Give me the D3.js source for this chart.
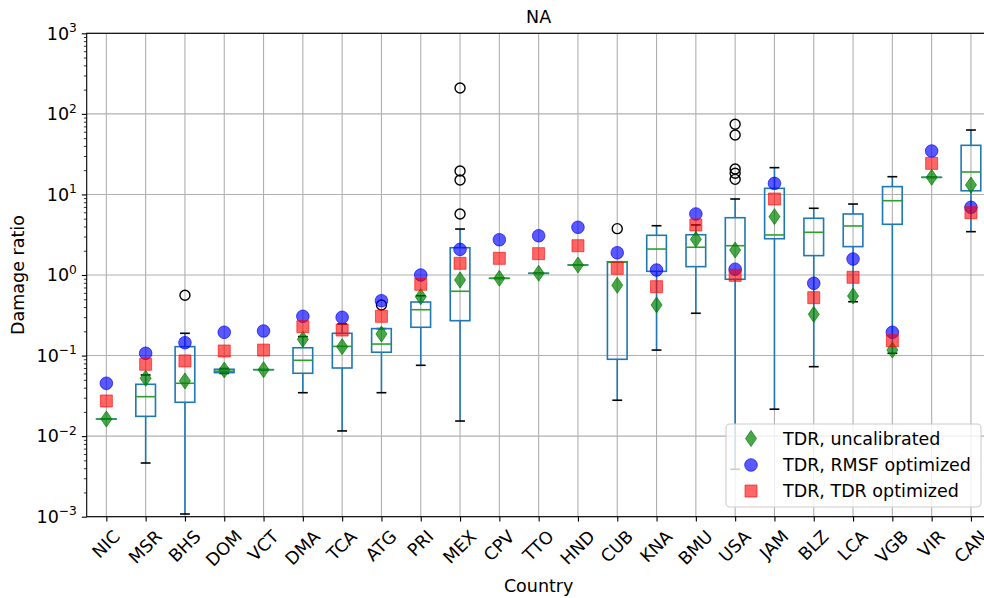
<!DOCTYPE html>
<html>
<head>
<meta charset="utf-8">
<script src="https://cdn.jsdelivr.net/npm/d3@7"></script>
<style>
  html, body { margin: 0; padding: 0; background: #fff; }
  svg { display: block; font-family: "DejaVu Sans", sans-serif; }
</style>
</head>
<body>
<svg id="chart" width="984" height="598"></svg>
<script>
// Countries along the x axis
const countries = ["NIC","MSR","BHS","DOM","VCT","DMA","TCA","ATG","PRI","MEX","CPV","TTO",
  "HND","CUB","KNA","BMU","USA","JAM","BLZ","LCA","VGB","VIR","CAN"];

// Box statistics of the damage ratio per country
const whiskerLow = [0.0163,0.00464,0.00108,0.060,0.0668,0.0346,0.0116,0.0346,0.0757,0.0154,0.91,1.05,
  1.33,0.0279,0.117,0.335,0.00388,0.0216,0.0728,0.466,0.1067,16.3,3.45];
const quartile1 = [0.0163,0.0176,0.0263,0.0614,0.0668,0.0603,0.0701,0.110,0.2245,0.271,0.91,1.05,
  1.33,0.0899,1.11,1.27,0.885,2.82,1.74,2.25,4.26,16.3,11.1];
const medians = [0.0163,0.0309,0.0453,0.064,0.0668,0.0874,0.130,0.139,0.371,0.628,0.91,1.05,
  1.33,1.44,2.10,2.21,2.31,3.14,3.39,4.06,8.36,16.3,19.0];
const quartile3 = [0.0163,0.044,0.129,0.0676,0.0668,0.125,0.189,0.216,0.462,2.18,0.91,1.05,
  1.33,1.46,3.11,3.16,5.14,11.9,5.06,5.72,12.5,16.3,40.7];
const whiskerHigh = [0.0163,0.0574,0.189,0.069,0.0668,0.172,0.2466,0.216,0.553,3.72,0.91,1.05,
  1.33,1.46,4.09,4.18,8.78,21.5,6.73,7.6,16.6,16.3,63];
const outliers = [[],[],[0.56],[],[],[],[],[0.4246],[],[5.72,15.1,19.5,209],[],[],
  [],[3.76],[],[],[15.4,18.3,20.7,54.7,74.2],[],[],[],[],[],[]];

// Modelled damage ratios
const tdrUncalibrated = [0.0163,0.0522,0.0484,0.0662,0.0668,0.159,0.129,0.185,0.538,0.867,0.91,1.05,
  1.33,0.745,0.425,2.77,2.04,5.3,0.325,0.549,0.117,16.3,13.1];
const tdrRmsfOptimized = [0.0453,0.1067,0.1445,0.1945,0.2018,0.307,0.2985,0.48,1.0,2.08,2.74,3.07,
  3.91,1.89,1.153,5.72,1.18,13.7,0.789,1.58,0.1945,34.6,6.92];
const tdrTdrOptimized = [0.0273,0.078,0.0857,0.114,0.117,0.2285,0.2076,0.307,0.767,1.397,1.61,1.84,
  2.31,1.21,0.716,4.18,0.99,8.78,0.523,0.937,0.153,24.3,5.93];

const decadeExponents = [-3,-2,-1,0,1,2,3];
const legendLabels = ["TDR, uncalibrated","TDR, RMSF optimized","TDR, TDR optimized"];

const svg = d3.select("#chart");
const fs = 17.5;
const plotLeft = 86.7, plotRight = 990.6, plotTop = 33.3, plotBottom = 516.7;

const x = d3.scalePoint().domain(countries).range([plotLeft, plotRight]).padding(0.5);
const step = x.step();
const y = d3.scaleLog().domain([1e-3, 1e3]).range([plotBottom, plotTop]);

const boxes = countries.map((c, i) => ({
  c, lo: whiskerLow[i], q1: quartile1[i], med: medians[i], q3: quartile3[i], hi: whiskerHigh[i],
  fl: outliers[i]
}));

// grid
const grid = svg.append("g").attr("stroke", "#b0b0b0").attr("stroke-width", 1.1);
grid.selectAll("line.gx").data(countries).join("line")
  .attr("x1", d => x(d)).attr("x2", d => x(d)).attr("y1", plotTop).attr("y2", plotBottom);
grid.selectAll("line.gy").data(decadeExponents).join("line")
  .attr("x1", plotLeft).attr("x2", plotRight)
  .attr("y1", d => y(Math.pow(10, d))).attr("y2", d => y(Math.pow(10, d)));

// boxplots
const bw = step * 0.5, cw = step * 0.25;
const bx = svg.append("g");
const g = bx.selectAll("g").data(boxes).join("g");
g.append("line").attr("stroke", "#1f77b4").attr("stroke-width", 1.6)
  .attr("x1", d => x(d.c)).attr("x2", d => x(d.c)).attr("y1", d => y(d.q1)).attr("y2", d => y(d.lo));
g.append("line").attr("stroke", "#1f77b4").attr("stroke-width", 1.6)
  .attr("x1", d => x(d.c)).attr("x2", d => x(d.c)).attr("y1", d => y(d.q3)).attr("y2", d => y(d.hi));
g.append("line").attr("stroke", "#000").attr("stroke-width", 1.6)
  .attr("x1", d => x(d.c) - cw / 2).attr("x2", d => x(d.c) + cw / 2).attr("y1", d => y(d.lo)).attr("y2", d => y(d.lo));
g.append("line").attr("stroke", "#000").attr("stroke-width", 1.6)
  .attr("x1", d => x(d.c) - cw / 2).attr("x2", d => x(d.c) + cw / 2).attr("y1", d => y(d.hi)).attr("y2", d => y(d.hi));
g.append("rect").attr("fill", "none").attr("stroke", "#1f77b4").attr("stroke-width", 1.6)
  .attr("x", d => x(d.c) - bw / 2).attr("width", bw)
  .attr("y", d => y(d.q3)).attr("height", d => Math.max(0.01, y(d.q1) - y(d.q3)));
g.append("line").attr("stroke", "#2ca02c").attr("stroke-width", 1.6)
  .attr("x1", d => x(d.c) - bw / 2).attr("x2", d => x(d.c) + bw / 2).attr("y1", d => y(d.med)).attr("y2", d => y(d.med));
g.selectAll("circle").data(d => d.fl.map(v => ({ c: d.c, v }))).join("circle")
  .attr("cx", d => x(d.c)).attr("cy", d => y(d.v)).attr("r", 5)
  .attr("fill", "none").attr("stroke", "#000").attr("stroke-width", 1.4);

// marker shapes
const diamondPath = "M0,-8L5.5,0L0,8L-5.5,0Z";
const squarePath = "M-6,-6H6V6H-6Z";
function drawMarker(sel, kind) {
  if (kind === 0) {
    sel.append("path").attr("d", diamondPath)
      .attr("fill", "green").attr("fill-opacity", 0.7).attr("stroke", "green").attr("stroke-opacity", 0.7);
  } else if (kind === 1) {
    sel.append("circle").attr("r", 6.3)
      .attr("fill", "blue").attr("fill-opacity", 0.65).attr("stroke", "blue").attr("stroke-opacity", 0.65);
  } else {
    sel.append("path").attr("d", squarePath)
      .attr("fill", "red").attr("fill-opacity", 0.6).attr("stroke", "red").attr("stroke-opacity", 0.6);
  }
}
[tdrUncalibrated, tdrRmsfOptimized, tdrTdrOptimized].forEach((series, k) => {
  const mg = svg.append("g");
  mg.selectAll("g").data(series).join("g")
    .attr("transform", (v, i) => `translate(${x(countries[i])},${y(v)})`)
    .each(function () { drawMarker(d3.select(this), k); });
});

// spines
svg.append("rect").attr("x", plotLeft).attr("y", plotTop)
  .attr("width", plotRight - plotLeft).attr("height", plotBottom - plotTop)
  .attr("fill", "none").attr("stroke", "#000").attr("stroke-width", 1.1);

// x axis
const xAxis = svg.append("g").attr("transform", `translate(0,${plotBottom})`)
  .call(d3.axisBottom(x).tickSize(4.9).tickSizeOuter(0).tickFormat(""));
xAxis.select(".domain").remove();
xAxis.selectAll("line").attr("stroke", "#000").attr("stroke-width", 1.1);

const lblTop = plotBottom + 4.9 + 4.9;
const s45 = Math.SQRT1_2;
countries.forEach(c => {
  const t = svg.append("text").attr("font-size", fs).attr("fill", "#000")
    .attr("text-anchor", "middle").attr("dy", "0.32em").text(c);
  const w = t.node().getComputedTextLength();
  const h = fs * 1.164;
  const H = (w + h) * s45;
  t.attr("transform", `translate(${x(c)},${lblTop + H / 2}) rotate(-45)`);
});

// y axis: major and minor ticks
const minorVals = [];
for (let e = -3; e < 3; e++) for (let m = 2; m <= 9; m++) minorVals.push(m * Math.pow(10, e));
const yMajor = svg.append("g").attr("transform", `translate(${plotLeft},0)`)
  .call(d3.axisLeft(y).tickValues(decadeExponents.map(e => Math.pow(10, e))).tickSize(4.9).tickFormat(""));
yMajor.select(".domain").remove();
yMajor.selectAll("line").attr("stroke", "#000").attr("stroke-width", 1.1);
const yMinor = svg.append("g").attr("transform", `translate(${plotLeft},0)`)
  .call(d3.axisLeft(y).tickValues(minorVals).tickSize(2.8).tickFormat(""));
yMinor.select(".domain").remove();
yMinor.selectAll("line").attr("stroke", "#000").attr("stroke-width", 0.8);

decadeExponents.forEach(e => {
  const t = svg.append("text").attr("font-size", fs).attr("fill", "#000")
    .attr("text-anchor", "end").attr("x", plotLeft - 4.9 - 4.9).attr("y", y(Math.pow(10, e))).attr("dy", "0.36em");
  t.append("tspan").text("10");
  t.append("tspan").attr("font-size", fs * 0.7).attr("dy", "-0.62em")
    .text(e < 0 ? "\u2212" + Math.abs(e) : String(e));
});

// titles
svg.append("text").attr("x", (plotLeft + plotRight) / 2).attr("y", 23).attr("text-anchor", "middle")
  .attr("font-size", fs).text("NA");
svg.append("text").attr("x", (plotLeft + plotRight) / 2).attr("y", 592).attr("text-anchor", "middle")
  .attr("font-size", fs).text("Country");
svg.append("text").attr("transform", `translate(18,${(plotTop + plotBottom) / 2}) rotate(-90)`)
  .attr("text-anchor", "middle").attr("dy", "0.35em").attr("font-size", fs).text("Damage ratio");

// legend
const lg = svg.append("g");
lg.append("rect").attr("x", 726).attr("y", 424).attr("width", 255).attr("height", 83).attr("rx", 4)
  .attr("fill", "#fff").attr("fill-opacity", 0.8).attr("stroke", "#cccccc").attr("stroke-width", 1.1);
const rows = [438.5, 465, 491];
legendLabels.forEach((lab, k) => {
  const r = lg.append("g").attr("transform", `translate(751,${rows[k]})`);
  drawMarker(r, k);
  lg.append("text").attr("x", 783).attr("y", rows[k]).attr("dy", "0.35em")
    .attr("font-size", fs).text(lab);
});
</script>
</body>
</html>
